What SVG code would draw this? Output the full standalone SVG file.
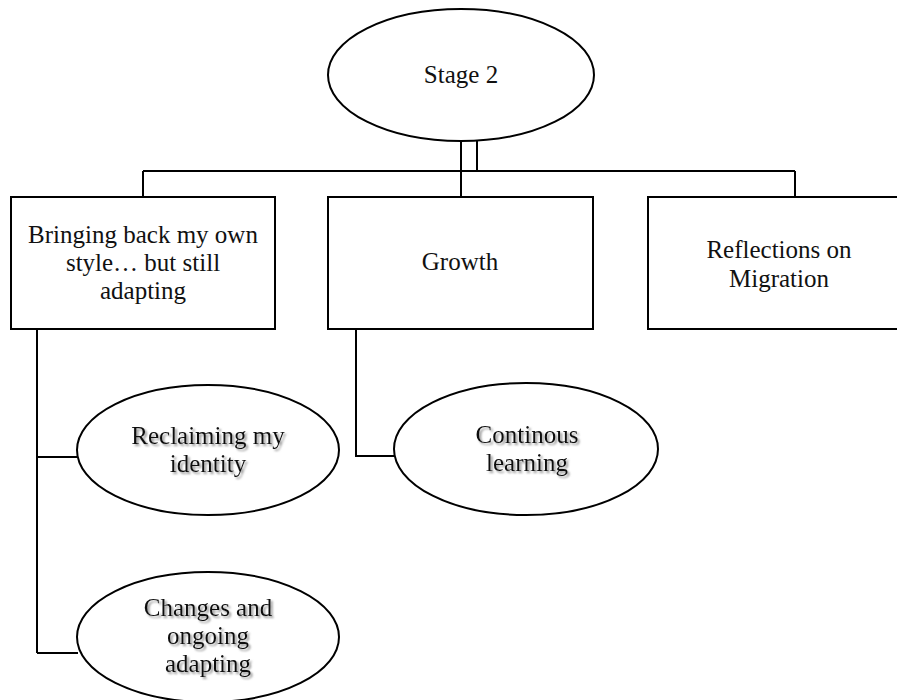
<svg xmlns="http://www.w3.org/2000/svg" width="897" height="700" viewBox="0 0 897 700">
<defs>
<style>
.shape{fill:#fff;stroke:#000;stroke-width:2}
.conn{fill:none;stroke:#000;stroke-width:2}
.t{font-family:'Liberation Serif','Times New Roman','DejaVu Serif',serif;font-size:25px;fill:#111;text-anchor:middle}
.sh{filter:url(#shadow)}
</style>
<filter id="shadow" x="-20%" y="-30%" width="140%" height="160%">
<feDropShadow dx="2" dy="2" stdDeviation="1.2" flood-color="#777" flood-opacity="0.8"/>
</filter>
</defs>
<rect width="897" height="700" fill="#fff"/>
<g id="connectors">
<path class="conn" d="M461,141 V171 M477,141 V171 M143,171 H795 M143,171 V197 M461,171 V197 M795,171 V197"/>
<path class="conn" d="M37,329 V653 M37,457 H78 M37,653 H78"/>
<path class="conn" d="M356,329 V456 H395"/>
</g>
<g id="stage2">
<ellipse class="shape" cx="461" cy="75" rx="133" ry="66"/>
<text class="t" font-family="Liberation Serif, serif" x="461" y="83">Stage 2</text>
</g>
<g id="bringing" class="t" font-family="Liberation Serif, serif">
<rect class="shape" x="11" y="197" width="264" height="132"/>
<text x="143" y="243">Bringing back my own</text>
<text x="143" y="271">style… but still</text>
<text x="143" y="299">adapting</text>
</g>
<g id="growth" class="t" font-family="Liberation Serif, serif">
<rect class="shape" x="328" y="197" width="265" height="132"/>
<text x="460" y="270">Growth</text>
</g>
<g id="reflections" class="t" font-family="Liberation Serif, serif">
<rect class="shape" x="648" y="197" width="262" height="132"/>
<text x="779" y="258">Reflections on</text>
<text x="779" y="287">Migration</text>
</g>
<g id="reclaiming" class="t" font-family="Liberation Serif, serif">
<ellipse class="shape" cx="208" cy="450" rx="131" ry="65"/>
<g class="sh"><text x="208" y="444">Reclaiming my</text>
<text x="208" y="472">identity</text></g>
</g>
<g id="changes" class="t" font-family="Liberation Serif, serif">
<ellipse class="shape" cx="208" cy="637" rx="131" ry="65"/>
<g class="sh"><text x="208" y="616">Changes and</text>
<text x="208" y="644">ongoing</text>
<text x="208" y="672">adapting</text></g>
</g>
<g id="continous" class="t" font-family="Liberation Serif, serif">
<ellipse class="shape" cx="526" cy="449" rx="132" ry="66"/>
<g class="sh"><text x="527" y="443">Continous</text>
<text x="527" y="471">learning</text></g>
</g>
</svg>
